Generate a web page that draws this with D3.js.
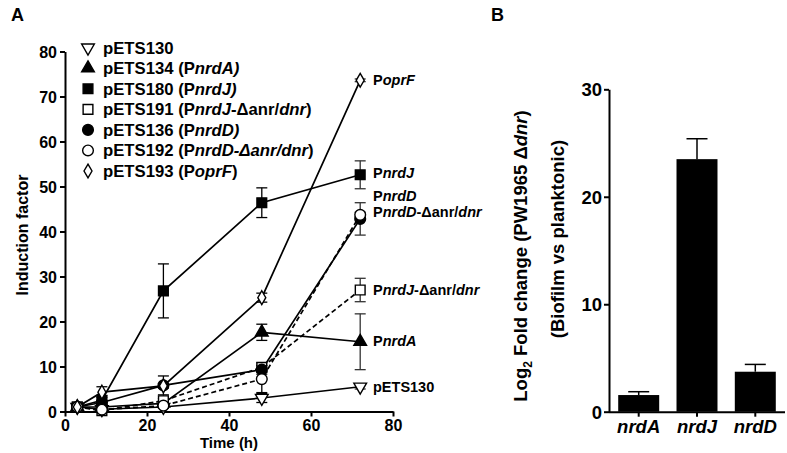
<!DOCTYPE html>
<html><head><meta charset="utf-8">
<script src="https://cdn.jsdelivr.net/npm/d3@7"></script>
<style>
html,body{margin:0;padding:0;background:#fff;}
svg{font-family:"Liberation Sans",Arial,sans-serif;font-weight:bold;}
</style></head>
<body><svg id="c" width="787" height="453"></svg>
<script>
// ---------- Data ----------
const times = [3, 9, 24, 48, 72];
const xTicksA = [0, 20, 40, 60, 80];
const yTicksA = [0, 10, 20, 30, 40, 50, 60, 70, 80];

const pETS130 = [1, 0.5, 1.0, 3.0, 5.5];
const pETS130Err = [0.3, 0.3, 0.3, 1.0, 0.5];
const pETS134 = [1, 1.0, 1.8, 17.6, 15.5];
const pETS134Err = [0.3, 0.4, 0.4, 1.8, 6.2];
const pETS180 = [1, 2.5, 26.8, 46.4, 52.6];
const pETS180Err = [0.3, 1.0, 6.0, 3.3, 3.1];
const pETS191 = [1, 0.2, 2.4, 9.8, 27.0];
const pETS191Err = [0.3, 0.3, 0.5, 1.0, 2.6];
const pETS136 = [1, 2.0, 5.8, 9.3, 42.8];
const pETS136Err = [0.3, 0.5, 2.1, 1.0, 3.6];
const pETS192 = [1, 0.4, 1.3, 7.2, 43.7];
const pETS192Err = [0.3, 0.3, 0.4, 3.0, 0.6];
const pETS193 = [1, 4.3, 5.7, 25.3, 73.6];
const pETS193Err = [0.3, 1.2, 0.5, 1.0, 0.3];

const genesB = ["nrdA", "nrdJ", "nrdD"];
const foldB = [1.55, 23.5, 3.72];
const foldBErr = [0.31, 1.9, 0.68];
const yTicksB = [0, 10, 20, 30];

// ---------- Setup ----------
const svg = d3.select("#c");
const xA = d3.scaleLinear().domain([0, 80]).range([65, 393]);
const yA = d3.scaleLinear().domain([0, 80]).range([411.5, 51.5]);

const series = [
  {v: pETS130, e: pETS130Err, sym: "tridown", fill: "#fff", dash: null,
   legend: [["pETS130", false]], end: [["pETS130", false]], endY: 386.7},
  {v: pETS134, e: pETS134Err, sym: "triangle", fill: "#000", dash: null,
   legend: [["pETS134 (P", false], ["nrdA)", true]], end: [["P", false], ["nrdA", true]], endY: 340.7},
  {v: pETS180, e: pETS180Err, sym: "square", fill: "#000", dash: null,
   legend: [["pETS180 (P", false], ["nrdJ)", true]], end: [["P", false], ["nrdJ", true]], endY: 172.7},
  {v: pETS191, e: pETS191Err, sym: "square", fill: "#fff", dash: "5,3",
   legend: [["pETS191 (P", false], ["nrdJ", true], ["-\u0394anr/", false], ["dnr", true], [")", false]],
   end: [["P", false], ["nrdJ", true], ["-\u0394anr/", false], ["dnr", true]], endY: 290},
  {v: pETS136, e: pETS136Err, sym: "circle", fill: "#000", dash: null,
   legend: [["pETS136 (P", false], ["nrdD)", true]], end: [["P", false], ["nrdD", true]], endY: 196},
  {v: pETS192, e: pETS192Err, sym: "circle", fill: "#fff", dash: "5,3",
   legend: [["pETS192 (P", false], ["nrdD-\u0394anr/dnr", true], [")", false]],
   end: [["P", false], ["nrdD", true], ["-\u0394anr/", false], ["dnr", true]], endY: 211.7},
  {v: pETS193, e: pETS193Err, sym: "diamond", fill: "#fff", dash: null,
   legend: [["pETS193 (P", false], ["oprF", true], [")", false]], end: [["P", false], ["oprF", true]], endY: 80}
];

function symPath(s) {
  if (s === "square") return d3.symbol(d3.symbolSquare, 95)();
  if (s === "circle") return d3.symbol(d3.symbolCircle, 90)();
  if (s === "triangle") return d3.symbol(d3.symbolTriangle, 70)();
  if (s === "tridown") return d3.symbol(d3.symbolTriangle, 70)();
  if (s === "diamond") return d3.symbol(d3.symbolDiamond, 55)();
}
function drawMarker(g, s, fill, x, y) {
  g.append("path").attr("d", symPath(s))
    .attr("transform", `translate(${x},${y})` + (s === "tridown" ? " rotate(180)" : ""))
    .attr("fill", fill).attr("stroke", "#000").attr("stroke-width", 1.4);
}

// ---------- Panel A ----------
const gA = svg.append("g");
const axY = gA.append("g").attr("transform", `translate(${xA(0)},0)`)
  .call(d3.axisLeft(yA).tickValues(yTicksA).tickSize(5).tickSizeOuter(0).tickPadding(3));
const axX = gA.append("g").attr("transform", `translate(0,${yA(0)})`)
  .call(d3.axisBottom(xA).tickValues(xTicksA).tickSize(5).tickSizeOuter(0).tickPadding(3));
[axY, axX].forEach(a => {
  a.select(".domain").attr("stroke-width", 2);
  a.selectAll(".tick line").attr("stroke-width", 2);
  a.selectAll("text").attr("font-size", 16).attr("font-weight", "bold")
    .attr("font-family", "Liberation Sans, Arial, sans-serif").attr("fill", "#000");
});
axY.selectAll("text").attr("dy", "0.36em");

// error bars
series.forEach(s => {
  times.forEach((t, i) => {
    const x = xA(t), y1 = yA(s.v[i] + s.e[i]), y0 = yA(Math.max(0, s.v[i] - s.e[i]));
    const col = (t === 72) ? "#333" : "#000";
    gA.append("line").attr("x1", x).attr("x2", x).attr("y1", y1).attr("y2", y0)
      .attr("stroke", col).attr("stroke-width", 1.3);
    [y1, y0].forEach(yy => gA.append("line").attr("x1", x - 5.5).attr("x2", x + 5.5)
      .attr("y1", yy).attr("y2", yy).attr("stroke", col).attr("stroke-width", 1.3));
  });
});
// lines
const lineGen = d3.line().x(d => xA(d[0])).y(d => yA(d[1]));
series.forEach(s => {
  gA.append("path").attr("d", lineGen(times.map((t, i) => [t, s.v[i]])))
    .attr("fill", "none").attr("stroke", "#000").attr("stroke-width", 1.7)
    .attr("stroke-dasharray", s.dash);
});
// markers
series.forEach(s => {
  times.forEach((t, i) => drawMarker(gA, s.sym, s.fill, xA(t), yA(s.v[i])));
});

// legend
const legY0 = 47.7, legStep = 20.55;
series.forEach((s, k) => {
  const y = legY0 + k * legStep;
  drawMarker(gA, s.sym, s.fill, 88, y);
  const t = gA.append("text").attr("x", 103).attr("y", y).attr("dy", "0.36em")
    .attr("font-size", 16.7);
  s.legend.forEach(p => t.append("tspan").text(p[0]).attr("font-style", p[1] ? "italic" : "normal"));
});
// end labels
series.forEach(s => {
  const t = gA.append("text").attr("x", 373).attr("y", s.endY).attr("dy", "0.36em")
    .attr("font-size", 14.5);
  s.end.forEach(p => t.append("tspan").text(p[0]).attr("font-style", p[1] ? "italic" : "normal"));
});

// titles
gA.append("text").attr("transform", "translate(28,235) rotate(-90)").attr("text-anchor", "middle")
  .attr("font-size", 16).text("Induction factor");
gA.append("text").attr("x", 229).attr("y", 448).attr("text-anchor", "middle")
  .attr("font-size", 15).text("Time (h)");
svg.append("text").attr("x", 11).attr("y", 21).attr("font-size", 18).text("A");
svg.append("text").attr("x", 491).attr("y", 21).attr("font-size", 18).text("B");

// ---------- Panel B ----------
const gB = svg.append("g");
const xB = d3.scaleBand().domain(genesB).range([609, 785]).paddingInner(0.297).paddingOuter(0.158);
const yB = d3.scaleLinear().domain([0, 30]).range([411.7, 89.3]);

gB.selectAll("rect.bar").data(genesB).enter().append("rect")
  .attr("x", d => xB(d)).attr("width", xB.bandwidth())
  .attr("y", (d, i) => yB(foldB[i])).attr("height", (d, i) => yB(0) - yB(foldB[i]))
  .attr("fill", "#000");
genesB.forEach((g, i) => {
  const xc = xB(g) + xB.bandwidth() / 2;
  const yt = yB(foldB[i] + foldBErr[i]);
  gB.append("line").attr("x1", xc).attr("x2", xc).attr("y1", yB(foldB[i])).attr("y2", yt)
    .attr("stroke", "#000").attr("stroke-width", 1.5);
  gB.append("line").attr("x1", xc - 10.5).attr("x2", xc + 10.5).attr("y1", yt).attr("y2", yt)
    .attr("stroke", "#000").attr("stroke-width", 1.5);
});

const bY = gB.append("g").attr("transform", `translate(609,0)`)
  .call(d3.axisLeft(yB).tickValues(yTicksB).tickSize(5).tickSizeOuter(0).tickPadding(2));
const bX = gB.append("g").attr("transform", `translate(0,${yB(0)})`)
  .call(d3.axisBottom(xB).tickSize(5).tickSizeOuter(0).tickPadding(3));
[bY, bX].forEach(a => {
  a.select(".domain").attr("stroke-width", 2);
  a.selectAll(".tick line").attr("stroke-width", 2);
  a.selectAll("text").attr("font-size", 18.5).attr("font-weight", "bold")
    .attr("font-family", "Liberation Sans, Arial, sans-serif").attr("fill", "#000");
});
bY.selectAll("text").attr("dy", "0.36em");
bX.selectAll("text").attr("font-style", "italic");
bX.select(".domain").attr("d", "M609,0.5H785");

const l1 = gB.append("text").attr("transform", "translate(527,256) rotate(-90)")
  .attr("text-anchor", "middle").attr("font-size", 18.5);
l1.append("tspan").text("Log");
l1.append("tspan").text("2").attr("font-size", 12).attr("dy", 5);
l1.append("tspan").text(" Fold change (PW1965 \u0394").attr("dy", -5);
l1.append("tspan").text("dnr").attr("font-style", "italic");
l1.append("tspan").text(")");
gB.append("text").attr("transform", "translate(564,239) rotate(-90)")
  .attr("text-anchor", "middle").attr("font-size", 18.5).text("(Biofilm vs planktonic)");
</script></body></html>
